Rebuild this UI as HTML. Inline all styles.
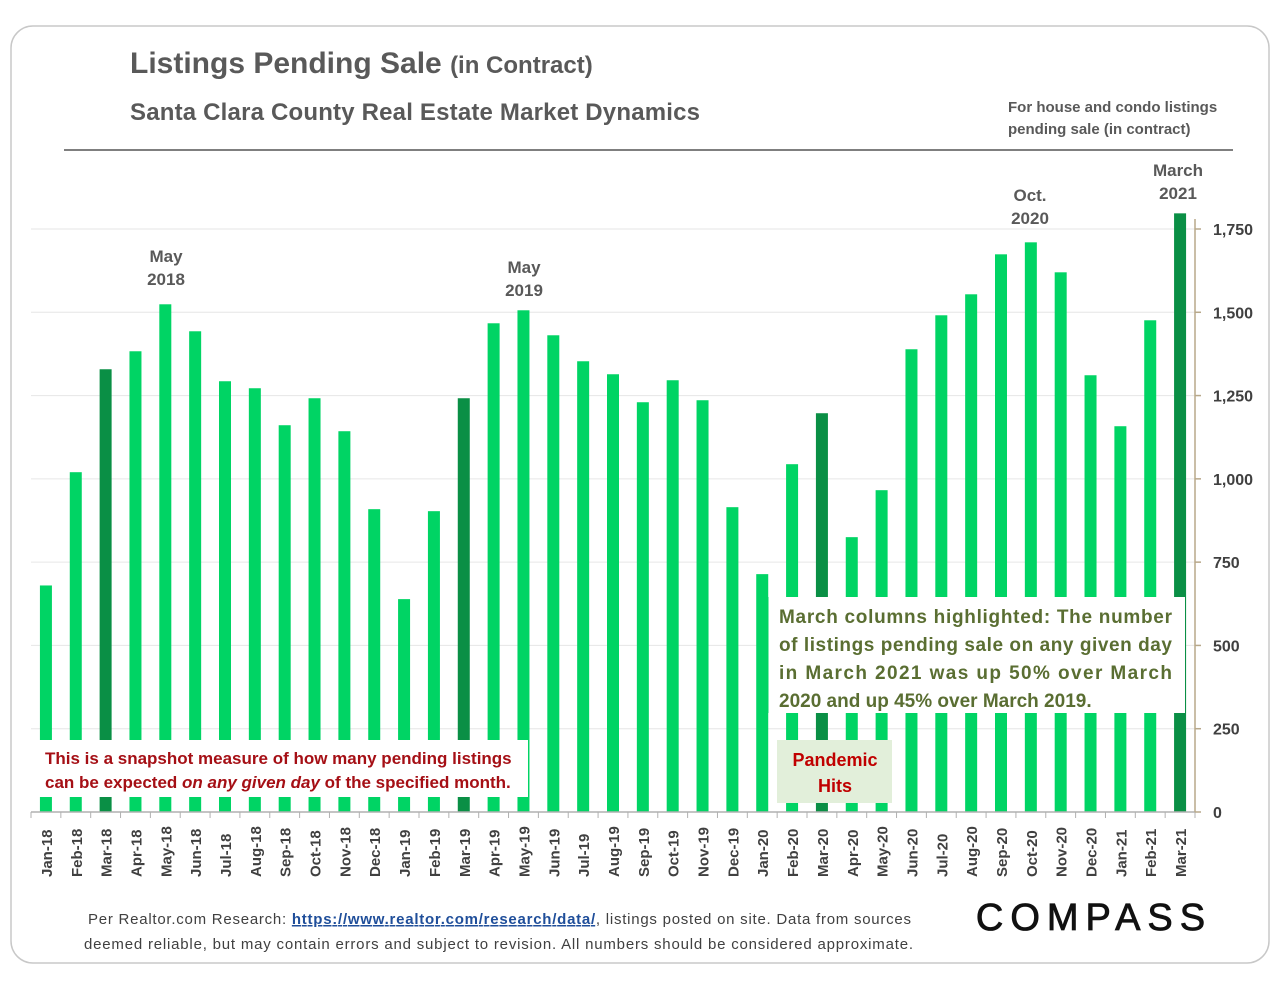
<!DOCTYPE html>
<html><head><meta charset="utf-8"><style>
html,body{margin:0;padding:0;background:#fff;}
body{width:1280px;height:989px;overflow:hidden;font-family:"Liberation Sans",sans-serif;}
</style></head><body>
<svg width="1280" height="989" viewBox="0 0 1280 989" xmlns="http://www.w3.org/2000/svg" font-family="Liberation Sans, sans-serif">
<rect x="11" y="26" width="1258" height="937" rx="22" fill="#fff" stroke="#c8c8c8" stroke-width="1.5"/>
<text x="130" y="73" font-size="30" font-weight="bold" fill="#595959">Listings Pending Sale <tspan font-size="24">(in Contract)</tspan></text>
<text x="130" y="120" font-size="24" font-weight="bold" fill="#595959" textLength="570">Santa Clara County Real Estate Market Dynamics</text>
<text x="1008" y="112" font-size="15" font-weight="bold" fill="#595959">For house and condo listings</text>
<text x="1008" y="134" font-size="15" font-weight="bold" fill="#595959">pending sale (in contract)</text>
<line x1="64" y1="150" x2="1233" y2="150" stroke="#7f7f7f" stroke-width="2"/>
<g id="grid"></g>
<g id="bars"></g>
<g id="xaxis"></g>
<g id="yaxis"></g>
<g font-size="17" font-weight="bold" fill="#595959" text-anchor="middle">
<text x="166" y="262">May</text><text x="166" y="285">2018</text>
<text x="524" y="273">May</text><text x="524" y="296">2019</text>
<text x="1030" y="201">Oct.</text><text x="1030" y="224">2020</text>
<text x="1178" y="176">March</text><text x="1178" y="199">2021</text>
</g>
<rect x="767" y="597" width="418" height="116" fill="#fff"/>
<line x1="767" y1="597" x2="767" y2="713" stroke="#00d464" stroke-width="3"/>
<g font-size="19" font-weight="bold" fill="#5a6e32">
<text x="779" y="623" textLength="393">March columns highlighted: The number</text>
<text x="779" y="651" textLength="393">of listings pending sale on any given day</text>
<text x="779" y="679" textLength="393">in March 2021 was up 50% over March</text>
<text x="779" y="707">2020 and up 45% over March 2019.</text>
</g>
<rect x="38" y="740" width="490" height="57" fill="#fff"/>
<g font-size="17" font-weight="bold" fill="#a50f15">
<text x="45" y="764">This is a snapshot measure of how many pending listings</text>
<text x="45" y="788">can be expected <tspan font-style="italic">on any given day</tspan> of the specified month.</text>
</g>
<rect x="777" y="740" width="115" height="63" fill="#e2efda"/>
<g font-size="18" font-weight="bold" fill="#c00000" text-anchor="middle">
<text x="835" y="766">Pandemic</text><text x="835" y="792">Hits</text>
</g>
<text x="88" y="924" font-size="15" fill="#404040" textLength="823">Per Realtor.com Research:  <tspan fill="#1f4e9a" font-weight="bold" text-decoration="underline">https://www.realtor.com/research/data/</tspan>, listings posted on site. Data from sources</text>
<text x="84" y="949" font-size="15" fill="#404040" textLength="829">deemed reliable, but may contain errors and subject to revision. All numbers should be considered approximate.</text>
<text x="1094" y="930" font-size="38" fill="#111" stroke="#111" stroke-width="0.8" text-anchor="middle" letter-spacing="7">COMPASS</text>
</svg>
<script>
const categories=["Jan-18","Feb-18","Mar-18","Apr-18","May-18","Jun-18","Jul-18","Aug-18","Sep-18","Oct-18","Nov-18","Dec-18","Jan-19","Feb-19","Mar-19","Apr-19","May-19","Jun-19","Jul-19","Aug-19","Sep-19","Oct-19","Nov-19","Dec-19","Jan-20","Feb-20","Mar-20","Apr-20","May-20","Jun-20","Jul-20","Aug-20","Sep-20","Oct-20","Nov-20","Dec-20","Jan-21","Feb-21","Mar-21"];
const values=[680,1020,1329,1383,1524,1443,1293,1272,1161,1242,1143,909,639,903,1242,1467,1506,1431,1353,1314,1230,1296,1236,915,714,1044,1197,825,966,1389,1491,1554,1674,1710,1620,1311,1158,1476,1797];
const yTicks=[0,250,500,750,1000,1250,1500,1750];
const NS="http://www.w3.org/2000/svg";
const x0=31,x1=1195,y0=812,yTop=229,yMaxV=1750;
const step=(x1-x0)/categories.length;
function xs(i){return x0+step*(i+0.5);}
function ys(v){return y0-(v/yMaxV)*(y0-yTop);}
function mk(t,a,p){const e=document.createElementNS(NS,t);for(const k in a)e.setAttribute(k,a[k]);p.appendChild(e);return e;}
const grid=document.getElementById('grid'),bars=document.getElementById('bars'),xa=document.getElementById('xaxis'),ya=document.getElementById('yaxis');
yTicks.forEach(v=>{
 if(v>0){const g=mk('line',{x1:x0,x2:x1,y1:ys(v),y2:ys(v),stroke:'#e6e6e6','stroke-width':1},grid);
 
 }
 const tk=mk('line',{x1:x1,x2:x1+6,y1:ys(v),y2:ys(v),stroke:'#b8a88a','stroke-width':1.5},ya);
 
 
 const t=mk('text',{x:1213,y:ys(v)+6,'font-size':16,'font-weight':'bold',fill:'#404040'},ya);
 t.textContent=v.toLocaleString('en-US');
 
 
});
const ax=mk('line',{x1:x1,x2:x1,y1:yTop-10,y2:y0,stroke:'#b8a88a','stroke-width':1.5},ya);


categories.forEach((c,i)=>{
 const isMar=c.startsWith('Mar');
 const r=mk('rect',{x:xs(i)-6,y:ys(values[i]),width:12,height:y0-ys(values[i]),fill:isMar?'#0a8f45':'#00d464'},bars);
 
 
 const t=mk('text',{transform:`translate(${xs(i)+6},877) rotate(-90)`,'font-size':15,fill:'#404040','font-weight':'bold'},xa);
 t.textContent=c;
 
 
});
for(let i=0;i<=categories.length;i++){
 const l=mk('line',{x1:x0+step*i,x2:x0+step*i,y1:y0,y2:y0+6,stroke:'#b0b0b0','stroke-width':1},xa);
 
 
}
const xl=mk('line',{x1:x0,x2:x1,y1:y0,y2:y0,stroke:'#b0b0b0','stroke-width':1.5},xa);


</script>
</body></html>
